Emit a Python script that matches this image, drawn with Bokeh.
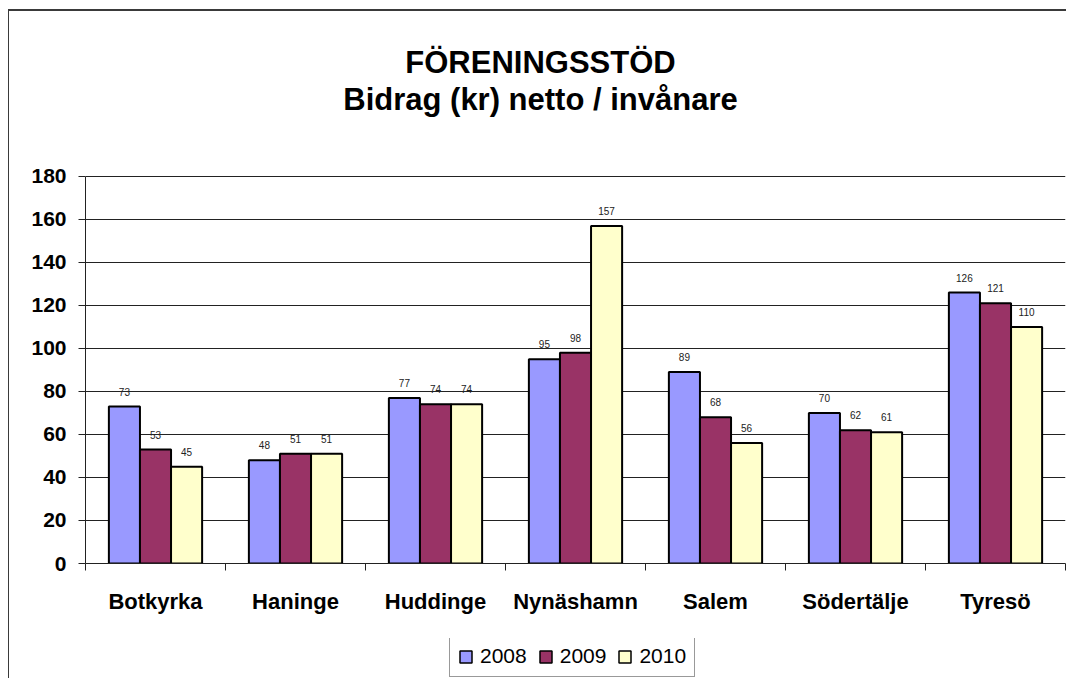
from bokeh.plotting import figure
from bokeh.layouts import column
from bokeh.models import (FactorRange, Range1d, LinearAxis, CategoricalAxis, FixedTicker,
                          ColumnDataSource, LabelSet, Label, Legend, LegendItem)
from bokeh.core.properties import value
from bokeh.transform import dodge
from bokeh.embed import file_html
from bokeh.resources import INLINE

# ---- data ----
categories = ["Botkyrka", "Haninge", "Huddinge", "Nynäshamn", "Salem", "Södertälje", "Tyresö"]
years = ["2008", "2009", "2010"]
v2008 = [73, 48, 77, 95, 89, 70, 126]
v2009 = [53, 51, 74, 98, 68, 62, 121]
v2010 = [45, 51, 74, 157, 56, 61, 110]
y_ticks = [0, 20, 40, 60, 80, 100, 120, 140, 160, 180]
title_lines = ["FÖRENINGSSTÖD", "Bidrag (kr) netto / invånare"]

# ---- styles / layout ----
colors = ["#9999FF", "#993366", "#FFFFCC"]
FONT = "Liberation Sans"
DARK = "#222222"
bar_w = 0.222
offsets = [-bar_w, 0.0, bar_w]
# the frame reaches up to the top of the canvas (so the title can sit inside it);
# the value axis itself is bounded to 0..180
Y_TOP = 256.7
W = 1057

series = [v2008, v2009, v2010]
sources = [ColumnDataSource(dict(cat=categories, val=vals, lbl=[str(v) for v in vals]))
           for vals in series]

p = figure(x_range=FactorRange(factors=categories), y_range=Range1d(0, Y_TOP),
           width=W, height=627, output_backend="svg", toolbar_location=None,
           x_axis_location=None, y_axis_location="left",
           min_border_left=76, min_border_right=1, min_border_top=0, min_border_bottom=75)
p.outline_line_color = None
p.background_fill_color = "white"
p.border_fill_color = "white"

# grid
p.xgrid.grid_line_color = None
p.ygrid.grid_line_color = DARK
p.ygrid.grid_line_width = 1
p.ygrid.ticker = FixedTicker(ticks=y_ticks)

# y axis
ya = p.yaxis[0]
ya.ticker = FixedTicker(ticks=y_ticks)
ya.bounds = (y_ticks[0], y_ticks[-1])
ya.axis_line_color = DARK
ya.major_tick_line_color = DARK
ya.major_tick_out = 7
ya.major_tick_in = 0
ya.minor_tick_line_color = None
ya.major_label_standoff = 12
ya.major_label_text_font = FONT
ya.major_label_text_font_style = "bold"
ya.major_label_text_font_size = "21px"
ya.major_label_text_color = "black"

# x axis: boundary ticks (between categories) + category labels
n = len(categories)
bound_axis = LinearAxis(ticker=FixedTicker(ticks=list(range(n + 1))),
                        major_label_overrides={i: "" for i in range(n + 1)},
                        major_label_text_font_size="1px", major_label_standoff=0,
                        major_tick_out=7, major_tick_in=0, minor_tick_line_color=None,
                        axis_line_color=DARK, major_tick_line_color=DARK)
p.add_layout(bound_axis, "below")
cat_axis = CategoricalAxis(axis_line_color=None, major_tick_line_color=None,
                           major_tick_out=0, major_tick_in=0, major_label_standoff=18,
                           major_label_text_font=FONT, major_label_text_font_style="bold",
                           major_label_text_font_size="22px", major_label_text_color="black")
p.add_layout(cat_axis, "below")

# bars + value labels
for src, col, off in zip(sources, colors, offsets):
    p.vbar(x=dodge("cat", off, range=p.x_range), top="val", width=bar_w, source=src,
           fill_color=col, line_color="black", line_width=2)
    p.add_layout(LabelSet(x=dodge("cat", off, range=p.x_range), y="val", text="lbl", source=src,
                          y_offset=11, text_align="center", text_baseline="alphabetic",
                          text_font_size=value("10px"), text_font=value(FONT),
                          text_color=DARK))

# title (two lines)
p.add_layout(Label(x=455, y=501, x_units="screen", y_units="screen", text=title_lines[0],
                   text_align="center", text_baseline="alphabetic", text_font=FONT,
                   text_font_style="bold", text_font_size="31px", text_color="black"))
p.add_layout(Label(x=455, y=464, x_units="screen", y_units="screen", text=title_lines[1],
                   text_align="center", text_baseline="alphabetic", text_font=FONT,
                   text_font_style="bold", text_font_size="31px", text_color="black"))

# legend strip under the chart (its bar renderers are hidden; only the swatches show)
leg = figure(width=W, height=40, output_backend="svg", toolbar_location=None,
             x_range=p.x_range, y_range=Range1d(-2, -1),
             x_axis_location=None, y_axis_location=None,
             min_border_left=0, min_border_right=0, min_border_top=0, min_border_bottom=0)
leg.outline_line_color = None
leg.grid.visible = False
items = []
for yr, src, col, off in zip(years, sources, colors, offsets):
    r = leg.vbar(x=dodge("cat", off, range=p.x_range), top="val", width=bar_w, source=src,
                 fill_color=col, line_color="black", line_width=1.5)
    r.visible = False
    items.append(LegendItem(label=yr, renderers=[r]))
legend = Legend(items=items, orientation="horizontal", location=(364, 1),
                glyph_width=15, glyph_height=15, label_standoff=7, spacing=11,
                padding=8, margin=0, label_height=22, click_policy="none",
                label_text_font=FONT, label_text_font_size="21px", label_text_color="black",
                border_line_color="#333333", border_line_width=1,
                background_fill_color="white", background_fill_alpha=1)
leg.add_layout(legend)

layout = column(p, leg, spacing=0)
layout.styles = {"margin-left": "8px", "margin-top": "9px",
                 "border-top": "2px solid #3a3a3a", "border-left": "1px solid #3a3a3a"}

open("out.html", "w").write(file_html(layout, INLINE))
